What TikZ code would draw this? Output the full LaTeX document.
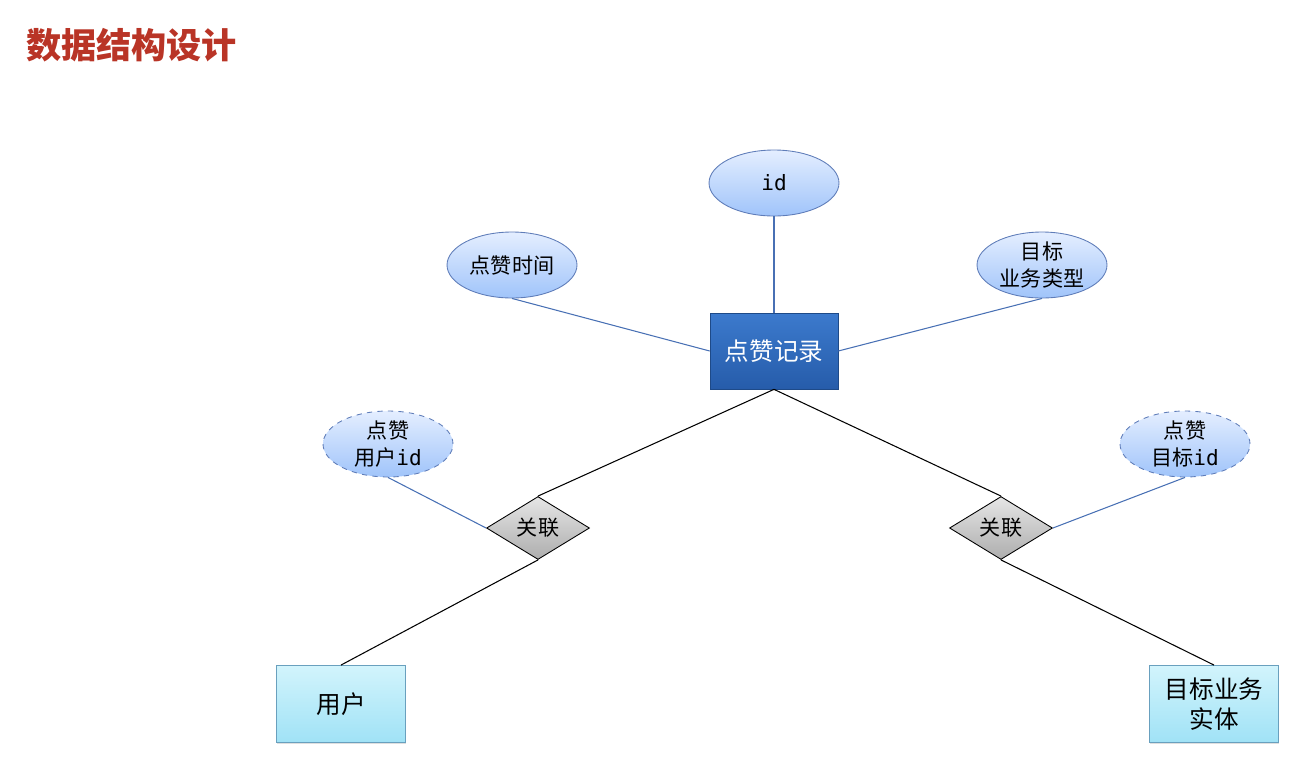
\documentclass[tikz,border=0pt]{standalone}
\usepackage{fontspec}
\newfontfamily\cjk{Noto Sans CJK SC}
\setmonofont{DejaVu Sans Mono}
\usetikzlibrary{shapes.geometric,shadows}
\definecolor{TitleRed}{RGB}{185,52,38}
\definecolor{AttrTop}{RGB}{228,238,255}
\definecolor{AttrBot}{RGB}{160,196,250}
\definecolor{AttrEdge}{RGB}{95,125,185}
\definecolor{MainTop}{RGB}{60,122,205}
\definecolor{MainBot}{RGB}{38,92,170}
\definecolor{EntTop}{RGB}{210,244,252}
\definecolor{EntBot}{RGB}{160,226,246}
\definecolor{EntEdge}{RGB}{105,160,190}
\definecolor{LinkBlue}{RGB}{72,112,180}

\begin{document}
\begin{tikzpicture}[
  x=0.02cm, y=-0.02cm,
  font=\cjk\fontsize{12}{15}\selectfont,
  attr/.style={ellipse, draw=AttrEdge, line width=0.5pt, top color=AttrTop,
    bottom color=AttrBot, minimum width=2.6cm, minimum height=1.32cm,
    inner sep=0pt, align=center},
  keyattr/.style={attr, dashed},
  main/.style={draw=MainBot!80!black, top color=MainTop, bottom color=MainBot,
    minimum width=2.56cm, minimum height=1.52cm, text=white,
    font=\cjk\fontsize{14}{17}\selectfont},
  entity/.style={draw=EntEdge, line width=0.5pt, top color=EntTop,
    bottom color=EntBot, minimum width=2.58cm, minimum height=1.54cm,
    align=center, font=\cjk\fontsize{14}{17}\selectfont,
    drop shadow={opacity=0.25, shadow xshift=0.5pt, shadow yshift=-1pt}},
  rel/.style={diamond, draw, line width=0.5pt, top color=black!10,
    bottom color=black!32, minimum width=2.06cm, minimum height=1.26cm,
    inner sep=0pt},
  attrlink/.style={draw=LinkBlue, line width=0.6pt},
  rellink/.style={draw=black, line width=0.6pt},
]
\useasboundingbox (0,0) rectangle (1316,775);

\node[anchor=west, text=TitleRed, font=\cjk\bfseries\fontsize{20}{24}\selectfont]
  (title) at (20,45) {数据结构设计};

\node[main] (like) at (774,351) {点赞记录};

\node[attr] (id)    at (774,183)  {\texttt{id}};
\node[attr] (time)  at (512,265)  {点赞时间};
\node[attr] (btype) at (1042,265) {目标\\业务类型};

\node[keyattr] (uid) at (388,444)  {点赞\\用户\texttt{id}};
\node[keyattr] (tid) at (1185,444) {点赞\\目标\texttt{id}};

\node[rel] (reluser)   at (538,528)  {关联};
\node[rel] (reltarget) at (1001,528) {关联};

\node[entity] (user)   at (341,704)  {用户};
\node[entity] (target) at (1214,704) {目标业务\\实体};

% attributes of the like record
\draw[attrlink] (id.south) -- (like.north);
\draw[attrlink] (time.south) -- (like.west);
\draw[attrlink] (btype.south) -- (like.east);

% relations
\draw[rellink] (like.south) -- (reluser.north);
\draw[rellink] (like.south) -- (reltarget.north);
\draw[rellink] (reluser.south) -- (user.north);
\draw[rellink] (reltarget.south) -- (target.north);

\draw[attrlink] (uid.south) -- (reluser.west);
\draw[attrlink] (tid.south) -- (reltarget.east);
\end{tikzpicture}
\end{document}
